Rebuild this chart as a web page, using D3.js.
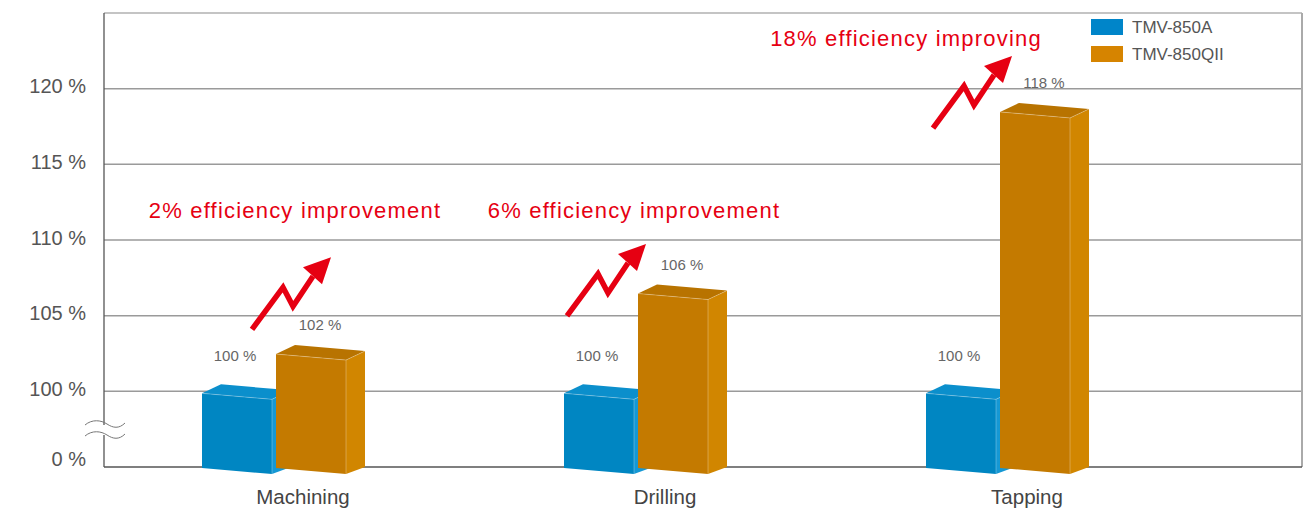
<!DOCTYPE html>
<html lang="en">
<head>
  <meta charset="utf-8">
  <script src="https://d3js.org/d3.v7.min.js"></script>
  <title>Efficiency comparison</title>
  <style>
    body { margin: 0; background: #fff; }
    text { font-family: "Liberation Sans", Arial, Helvetica, sans-serif; }
  </style>
</head>
<body>
<div id="chart"></div>
<script>
  // chart data
  const categories = ["Machining", "Drilling", "Tapping"];
  const seriesNames = ["TMV-850A", "TMV-850QII"];
  const valuesA = [100, 100, 100];
  const valuesQII = [102, 106, 118];
  // 95 on the scale stands for the broken "0 %" baseline
  const tickValues = [95, 100, 105, 110, 115, 120];
  const tickLabels = ["0 %", "100 %", "105 %", "110 %", "115 %", "120 %"];
  const notes = ["2% efficiency improvement", "6% efficiency improvement", "18% efficiency improving"];

  const width = 1311, height = 511;
  const margin = { top: 13, right: 9, bottom: 44, left: 104 };

  const svg = d3.select("#chart")
    .append("svg")
    .attr("width", width)
    .attr("height", height);

  const y = d3.scaleLinear()
    .domain([95, 125])
    .range([height - margin.bottom, margin.top]);

  const x = d3.scaleBand()
    .domain(categories)
    .range([margin.left + 18, margin.left + 1104]);
  const cx = c => x(c) + x.bandwidth() / 2;

  // grid lines
  svg.append("g")
    .selectAll("line")
    .data(tickValues.slice(1))
    .join("line")
    .attr("x1", margin.left).attr("x2", width - margin.right)
    .attr("y1", d => y(d)).attr("y2", d => y(d))
    .attr("stroke", "#9a9a9a")
    .attr("stroke-width", 1.5);

  // frame: top and right
  svg.append("line")
    .attr("x1", margin.left).attr("x2", width - margin.right)
    .attr("y1", margin.top).attr("y2", margin.top)
    .attr("stroke", "#8a8a8a").attr("stroke-width", 1.2);
  svg.append("line")
    .attr("x1", width - margin.right).attr("x2", width - margin.right)
    .attr("y1", margin.top).attr("y2", y(95))
    .attr("stroke", "#aaa").attr("stroke-width", 2);

  // y axis
  const yAxis = svg.append("g")
    .attr("transform", `translate(${margin.left},0)`)
    .call(d3.axisLeft(y)
      .tickValues(tickValues)
      .tickFormat((d, i) => tickLabels[i])
      .tickSize(0)
      .tickPadding(18));
  yAxis.select(".domain").remove();
  yAxis.selectAll("text")
    .attr("fill", "#555")
    .attr("font-size", 20)
    .attr("dy", "0.2em");
  yAxis.selectAll(".tick").filter(d => d === 95).select("text").attr("dy", "-0.1em");

  svg.append("line")
    .attr("x1", margin.left).attr("x2", margin.left)
    .attr("y1", margin.top).attr("y2", y(95))
    .attr("stroke", "#555").attr("stroke-width", 1.3);
  svg.append("line")
    .attr("x1", margin.left).attr("x2", width - margin.right)
    .attr("y1", y(95)).attr("y2", y(95))
    .attr("stroke", "#555").attr("stroke-width", 1.3);

  // axis break marks
  const brk = svg.append("g");
  brk.append("rect")
    .attr("x", margin.left - 4).attr("y", 425)
    .attr("width", 8).attr("height", 10)
    .attr("fill", "#fff");
  [424, 435].forEach(wy => {
    brk.append("path")
      .attr("d", `M85,${wy + 1} C92,${wy - 5} 101,${wy - 4} 107,${wy} S119,${wy + 5} 125,${wy - 1}`)
      .attr("fill", "none")
      .attr("stroke", "#777")
      .attr("stroke-width", 1);
  });

  // category labels
  svg.append("g")
    .selectAll("text")
    .data(categories)
    .join("text")
    .attr("x", d => cx(d))
    .attr("y", height - 7)
    .attr("text-anchor", "middle")
    .attr("font-size", 20.5)
    .attr("fill", "#444")
    .text(d => d);

  // 3d box bars
  const colors = [
    { front: "#0086c2", top: "#0b8fcc", side: "#1598d4" },
    { front: "#c47a00", top: "#b87300", side: "#d18600" }
  ];
  const boxW = 70, depthX = 19, depthTop = -9, depthBot = -7, slope = 6;

  function drawBox(g, x0, top, bottom, c) {
    const ftl = [x0, top], ftr = [x0 + boxW, top + slope];
    const fbr = [x0 + boxW, bottom + slope], fbl = [x0, bottom];
    const btl = [x0 + depthX, top + depthTop], btr = [x0 + boxW + depthX, top + slope + depthTop];
    const bbr = [x0 + boxW + depthX, bottom + slope + depthBot];
    const poly = pts => "M" + pts.map(p => p.join(",")).join("L") + "Z";
    g.append("path").attr("d", poly([ftr, btr, bbr, fbr])).attr("fill", c.side);
    g.append("path").attr("d", poly([ftl, btl, btr, ftr])).attr("fill", c.top);
    g.append("path").attr("d", poly([ftl, ftr, fbr, fbl])).attr("fill", c.front);
    g.append("path")
      .attr("d", `M${ftl}L${ftr}L${btr}M${ftr}L${fbr}`)
      .attr("fill", "none")
      .attr("stroke", "rgba(255,255,255,0.35)")
      .attr("stroke-width", 0.8);
  }

  const series = [valuesA, valuesQII];
  const shiftX = [-101, -27];      // front face left edge from category centre
  const topShift = [2, -7];        // front top edge vs value position
  const labelShift = [-30, -31];
  const labelDx = [33, 44];

  const bars = svg.append("g");
  categories.forEach((c, i) => {
    series.forEach((vals, s) => {
      const x0 = cx(c) + shiftX[s];
      drawBox(bars, x0, y(vals[i]) + topShift[s], y(95) + 1, colors[s]);
      bars.append("text")
        .attr("x", x0 + labelDx[s])
        .attr("y", y(vals[i]) + labelShift[s])
        .attr("text-anchor", "middle")
        .attr("font-size", 15)
        .attr("fill", "#666")
        .text(vals[i] + " %");
    });
  });

  // red annotations: arrow start and text anchor in chart units
  const noteLayout = [
    { tx: -8, ty: 111.45, ax: -51, ay: 104.1 },
    { tx: -31, ty: 111.45, ax: -98, ay: 104.98 },
    { tx: -121, ty: 122.8, ax: -94, ay: 117.4 }
  ];
  const red = "#e60012";
  const ann = svg.append("g");
  categories.forEach((c, i) => {
    const L = noteLayout[i];
    ann.append("text")
      .attr("x", cx(c) + L.tx)
      .attr("y", y(L.ty))
      .attr("text-anchor", "middle")
      .attr("font-size", 22)
      .attr("letter-spacing", 1.2)
      .attr("fill", red)
      .text(notes[i]);
    const ax = cx(c) + L.ax, ay = y(L.ay);
    const pts = [[0, 0], [31, -42], [41, -23], [61, -53]].map(p => [ax + p[0], ay + p[1]]);
    ann.append("path")
      .attr("d", d3.line()(pts))
      .attr("fill", "none")
      .attr("stroke", red)
      .attr("stroke-width", 5.5)
      .attr("stroke-linejoin", "miter");
    const head = [[79, -72], [51, -62], [70, -45]].map(p => [ax + p[0], ay + p[1]]);
    ann.append("path")
      .attr("d", d3.line()(head) + "Z")
      .attr("fill", red);
  });

  // legend
  const legendColors = ["#0085c9", "#d68400"];
  const legend = svg.append("g")
    .selectAll("g")
    .data(seriesNames)
    .join("g")
    .attr("transform", (d, i) => `translate(1091,${19 + i * 27})`);
  legend.append("rect")
    .attr("width", 32).attr("height", 16)
    .attr("fill", (d, i) => legendColors[i]);
  legend.append("text")
    .attr("x", 41).attr("y", 8)
    .attr("dy", "0.35em")
    .attr("font-size", 17)
    .attr("fill", "#555")
    .text(d => d);
</script>
</body>
</html>
